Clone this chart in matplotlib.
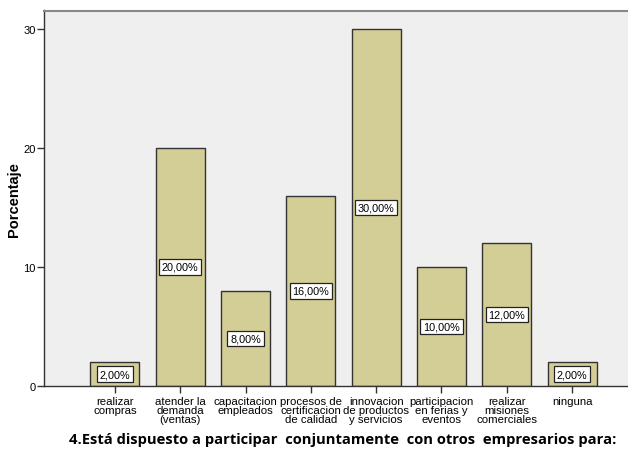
import matplotlib.pyplot as plt

categorias = [
    "realizar\ncompras",
    "atender la\ndemanda\n(ventas)",
    "capacitacion\nempleados",
    "procesos de\ncertificacion\nde calidad",
    "innovacion\nde productos\ny servicios",
    "participacion\nen ferias y\neventos",
    "realizar\nmisiones\ncomerciales",
    "ninguna",
]
porcentajes = [2, 20, 8, 16, 30, 10, 12, 2]
etiquetas = ["2,00%", "20,00%", "8,00%", "16,00%", "30,00%", "10,00%", "12,00%", "2,00%"]

plt.rcParams['font.family'] = ['Liberation Sans', 'DejaVu Sans']

fig = plt.figure(figsize=(6.28, 4.52), dpi=100)
ax = fig.add_axes([44 / 628, 1 - 387 / 452, 599 / 628, 375.5 / 452])
ax.set_facecolor('#efefef')

x = list(range(len(categorias)))
ax.bar(x, porcentajes, width=0.75, color='#d3ce96', edgecolor='#333333', linewidth=1.0, zorder=2)

# etiquetas de valor en el centro de cada barra
for xi, v, txt in zip(x, porcentajes, etiquetas):
    ax.text(xi, v / 2, txt, ha='center', va='center', fontsize=7.8, zorder=3,
            bbox=dict(facecolor='white', edgecolor='#222222', linewidth=0.9, pad=2))

ax.set_xlim(-1.085, len(categorias) - 1 + 1.085)
ax.set_ylim(0, 31.55)
ax.set_yticks([0, 10, 20, 30])
ax.set_xticks(x)
ax.set_xticklabels(categorias, fontsize=8.2, linespacing=0.92)
ax.tick_params(axis='y', labelsize=8, length=5, width=1, color='#333333', pad=1)
ax.tick_params(axis='x', length=5, width=1, color='#333333', pad=2)

for s in ['left', 'bottom']:
    ax.spines[s].set_color('#333333')
    ax.spines[s].set_linewidth(1)
for s in ['top', 'right']:
    ax.spines[s].set_color('#888888')
    ax.spines[s].set_linewidth(1.5)

ax.set_ylabel('Porcentaje', fontsize=10.5, fontweight='bold', labelpad=2)
fig.text(0.545, 1 - 440 / 452, '4.Está dispuesto a participar  conjuntamente  con otros  empresarios para:',
         ha='center', va='center', fontsize=10.6, fontweight='bold', family=['Open Sans', 'DejaVu Sans'])

fig.savefig('out.png', dpi=100)
